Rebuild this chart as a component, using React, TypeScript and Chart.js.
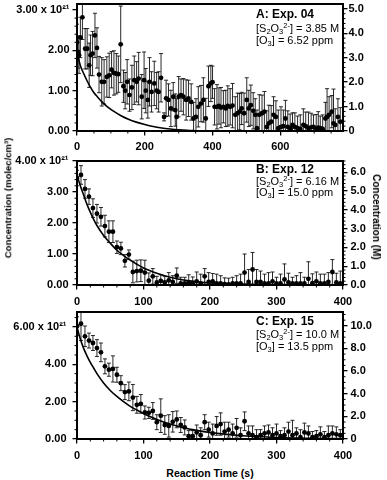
import React, { useEffect, useRef } from 'react';
import { Chart, registerables } from 'chart.js';

Chart.register(...registerables);

const FONT = "'Liberation Sans', Arial, Helvetica, sans-serif";
// 1e21 molec/cm3 expressed in mol/L (right-hand axes)
const M_PER_1E21 = 1.65;

// ---------- Panel A: Exp. 04 ----------
const A_TIME = [0, 3, 6, 10, 16, 24, 30, 36, 40, 46, 53, 59, 65, 73, 80, 88, 95, 102, 109, 116, 122, 129, 137, 142, 148, 155, 162, 169, 176, 182, 191, 198, 203, 209, 214, 220, 228, 235, 241, 248, 257, 263, 270, 277, 284, 290, 294, 300, 307, 314, 322, 329, 337, 344, 351, 358, 366, 373, 380, 388, 395, 400, 406, 413, 419, 425, 432, 439, 445, 452, 459, 467, 474, 480, 486, 493, 501, 507, 513, 520, 526, 531, 538, 546, 553, 560, 566, 573, 580, 587, 594, 602, 609, 615, 622, 629, 636, 643, 651, 659, 668, 675, 683, 691, 698, 706, 712, 718, 725, 733, 738, 744, 752, 757, 762, 770, 777];
const A_CONC = [2.20, 1.96, 1.88, 2.32, 2.82, 2.04, 2.04, 1.63, 1.88, 1.92, 2.37, 2.06, 1.40, 1.22, 1.22, 1.34, 1.38, 1.52, 1.44, 1.42, 1.41, 2.15, 1.11, 1.00, 1.22, 0.89, 1.08, 1.26, 1.22, 1.30, 0.85, 1.26, 1.00, 0.77, 1.22, 0.97, 1.18, 1.00, 0.97, 1.32, 0.35, 0.81, 0.77, 0.56, 0.85, 0.52, 0.35, 0.85, 0.89, 0.85, 0.77, 0.81, 0.72, 0.31, 0.35, 0.60, 0.68, 0.77, 0.31, 1.11, 1.18, 1.21, 0.60, 0.60, 0.62, 0.58, 0.60, 0.56, 0.62, 0.60, 0.63, 0.40, 0.44, 0.48, 0.56, 0.44, 0.77, 0.56, 0.64, 0.50, 0.40, 0.07, 0.40, 0.44, 0.48, 0.10, 0.19, 0.23, 0.40, 0.35, 0.07, 0.10, 0.12, 0.31, 0.10, 0.07, 0.15, 0.10, 0.07, 0.05, 0.15, 0.12, 0.07, 0.09, 0.10, 0.06, 0.08, 0.07, 0.05, 0.31, 0.35, 0.40, 0.48, 0.19, 0.15, 0.35, 0.23];
const A_ERR = [0.45, 0.40, 0.45, 0.50, 0.55, 0.50, 0.50, 0.55, 0.50, 0.55, 0.55, 0.50, 0.45, 0.60, 0.55, 0.50, 0.55, 0.45, 0.55, 0.50, 0.45, 0.95, 0.40, 0.45, 0.55, 0.40, 0.55, 0.60, 0.50, 0.65, 0.55, 0.70, 0.55, 0.45, 0.60, 0.50, 0.55, 0.45, 0.50, 0.60, 0.10, 0.45, 0.40, 0.45, 0.35, 0.40, 0.45, 0.50, 0.40, 0.45, 0.50, 0.45, 0.45, 0.40, 0.45, 0.50, 0.45, 0.55, 0.50, 0.50, 0.45, 0.40, 0.45, 0.55, 0.45, 0.50, 0.40, 0.45, 0.50, 0.45, 0.55, 0.45, 0.50, 0.45, 0.40, 0.50, 0.55, 0.45, 0.50, 0.45, 0.40, 0.45, 0.50, 0.45, 0.50, 0.40, 0.45, 0.40, 0.45, 0.40, 0.45, 0.50, 0.40, 0.45, 0.40, 0.35, 0.30, 0.35, 0.30, 0.35, 0.40, 0.35, 0.40, 0.35, 0.30, 0.35, 0.40, 0.30, 0.35, 0.40, 0.70, 0.45, 0.40, 0.85, 0.40, 0.45, 0.35];
const A_FIT_TIME = [0, 5, 10, 20, 30, 40, 50, 60, 75, 90, 110, 130, 150, 175, 200, 225, 250, 275, 300, 325, 350];
const A_FIT_CONC = [2.0, 1.78, 1.62, 1.42, 1.24, 1.08, 0.95, 0.85, 0.71, 0.6, 0.48, 0.38, 0.3, 0.22, 0.16, 0.11, 0.075, 0.05, 0.03, 0.015, 0.005];
const A_X_TICKS = [0, 200, 400, 600];
const A_LEFT_TICKS = [0, 1, 2, 3];
const A_LEFT_LABELS = ['0.00', '1.00', '2.00', '3.00 x 10²¹'];
const A_RIGHT_TICKS = [0, 1, 2, 3, 4, 5];
const A_RIGHT_LABELS = ['0', '1.0', '2.0', '3.0', '4.0', '5.0'];

// ---------- Panel B: Exp. 12 ----------
const B_TIME = [0, 6, 12, 18, 24, 30, 36, 42, 48, 54, 60, 66, 72, 78, 84, 90, 96, 102, 108, 114, 120, 126, 132, 138, 144, 150, 156, 162, 168, 174, 180, 186, 192, 198, 204, 210, 216, 222, 228, 234, 240, 246, 252, 258, 264, 270, 276, 282, 288, 294, 300, 306, 312, 318, 324, 330, 336, 342, 348, 354, 360, 366, 372, 378, 384, 390, 396];
const B_CONC = [3.45, 3.55, 3.10, 2.85, 2.48, 2.30, 2.20, 1.90, 1.72, 1.72, 1.22, 1.18, 0.78, 0.98, 0.42, 0.45, 0.46, 0.40, 0.14, 0.28, 0.08, 0.13, 0.08, 0.15, 0.10, 0.30, 0.05, 0.05, 0.08, 0.06, 0.12, 0.05, 0.28, 0.10, 0.12, 0.05, 0.05, 0.03, 0.02, 0.05, 0.05, 0.05, 0.40, 0.10, 0.50, 0.10, 0.10, 0.05, 0.05, 0.12, 0.05, 0.05, 0.18, 0.08, 0.05, 0.05, 0.05, 0.05, 0.20, 0.06, 0.12, 0.05, 0.05, 0.10, 0.42, 0.08, 0.05];
const B_ERR = [0.25, 0.30, 0.30, 0.25, 0.30, 0.30, 0.30, 0.35, 0.35, 0.35, 0.20, 0.20, 0.20, 0.15, 0.35, 0.35, 0.35, 0.40, 0.25, 0.25, 0.20, 0.20, 0.20, 0.25, 0.20, 0.25, 0.20, 0.20, 0.25, 0.20, 0.30, 0.30, 0.25, 0.30, 0.25, 0.30, 0.25, 0.20, 0.20, 0.20, 0.25, 0.30, 0.60, 0.40, 0.55, 0.40, 0.35, 0.30, 0.35, 0.30, 0.20, 0.30, 0.50, 0.30, 0.20, 0.25, 0.35, 0.20, 0.55, 0.30, 0.30, 0.30, 0.30, 0.30, 0.40, 0.30, 0.40];
const B_FIT_TIME = [0, 5, 10, 15, 20, 25, 30, 40, 50, 60, 70, 80, 90, 100, 110, 120, 140, 160, 180, 200, 250, 300, 350, 400];
const B_FIT_CONC = [3.55, 3.2, 2.9, 2.6, 2.35, 2.12, 1.92, 1.6, 1.35, 1.12, 0.95, 0.8, 0.67, 0.55, 0.46, 0.38, 0.25, 0.16, 0.11, 0.07, 0.03, 0.015, 0.008, 0.004];
const B_X_TICKS = [0, 100, 200, 300, 400];
const B_LEFT_TICKS = [0, 1, 2, 3, 4];
const B_LEFT_LABELS = ['0.00', '1.00', '2.00', '3.00', '4.00 x 10²¹'];
const B_RIGHT_TICKS = [0, 1, 2, 3, 4, 5, 6];
const B_RIGHT_LABELS = ['0.0', '1.0', '2.0', '3.0', '4.0', '5.0', '6.0'];

// ---------- Panel C: Exp. 15 ----------
const C_TIME = [0, 6, 12, 18, 24, 30, 36, 42, 48, 54, 60, 66, 72, 78, 84, 90, 96, 102, 108, 114, 120, 126, 132, 138, 144, 150, 156, 162, 168, 174, 180, 186, 192, 198, 204, 210, 216, 222, 228, 234, 240, 246, 252, 258, 264, 270, 276, 282, 288, 294, 300, 306, 312, 318, 324, 330, 336, 342, 348, 354, 360, 366, 372, 378, 384, 390, 396];
const C_CONC = [6.04, 6.17, 5.50, 5.27, 5.14, 4.87, 4.64, 3.89, 3.71, 3.75, 3.44, 2.99, 2.51, 2.55, 2.22, 1.83, 1.88, 1.42, 1.40, 1.50, 0.90, 1.25, 0.75, 0.70, 0.92, 1.05, 0.75, 0.62, 0.15, 0.15, 0.35, 0.20, 0.90, 0.50, 0.30, 0.70, 0.80, 0.40, 0.50, 0.30, 0.60, 0.20, 0.95, 0.30, 0.20, 0.10, 0.20, 0.30, 0.35, 0.20, 0.30, 0.15, 0.20, 0.40, 0.20, 0.30, 0.10, 0.35, 0.30, 0.10, 0.15, 0.25, 0.10, 0.20, 0.30, 0.25, 0.20];
const C_ERR = [0.50, 0.90, 0.55, 0.40, 0.40, 0.45, 0.50, 0.40, 0.35, 0.70, 0.40, 0.40, 0.40, 0.50, 0.70, 0.45, 0.50, 0.35, 0.30, 0.45, 0.40, 0.90, 0.50, 0.60, 0.55, 0.45, 0.40, 0.40, 0.30, 0.30, 0.40, 0.40, 0.40, 0.40, 0.50, 0.50, 0.60, 0.50, 0.40, 0.50, 0.50, 0.40, 0.50, 0.40, 0.50, 0.40, 0.30, 0.40, 0.40, 0.40, 0.50, 0.30, 0.40, 0.50, 0.80, 0.30, 0.40, 0.50, 0.40, 0.30, 0.30, 0.40, 0.30, 0.50, 0.40, 0.40, 0.30];
const C_FIT_TIME = [0, 5, 10, 15, 20, 25, 30, 40, 50, 60, 70, 80, 90, 100, 120, 140, 160, 180, 200, 250, 300, 350, 400];
const C_FIT_CONC = [6.0, 5.35, 4.85, 4.45, 4.1, 3.8, 3.5, 3.0, 2.6, 2.28, 2.0, 1.75, 1.55, 1.37, 1.05, 0.8, 0.6, 0.46, 0.35, 0.17, 0.08, 0.04, 0.02];
const C_X_TICKS = [0, 100, 200, 300, 400];
const C_LEFT_TICKS = [0, 2, 4, 6];
const C_LEFT_LABELS = ['0.00', '2.00', '4.00', '6.00 x 10²¹'];
const C_RIGHT_TICKS = [0, 2, 4, 6, 8, 10];
const C_RIGHT_LABELS = ['0', '2.0', '4.0', '6.0', '8.0', '10.0'];

// ---------- annotation texts ----------
const PANEL_TITLES = ['A: Exp. 04', 'B: Exp. 12', 'C: Exp. 15'];
const S2O3_CONC = ['3.85', '6.16', '10.0'];
const O3_CONC = ['6.52', '15.0', '13.5'];

const X_TITLE = 'Reaction Time (s)';
const Y_TITLE = 'Concentration (molec/cm³)';
const Y2_TITLE = 'Concentration (M)';

type Panel = {
  top: number; height: number; padTop: number; xAxisH: number;
  xMax: number; yMax: number;
  xTicks: number[]; yTicks: number[]; yLabels: string[]; y2Ticks: number[]; y2Labels: string[];
  xMinor: number; yMinor: number; y2Minor: number;
  yPad: number; y2Pad: number; xPad: number;
  time: number[]; conc: number[]; err: number[]; fitTime: number[]; fitConc: number[];
  idx: number; annY: number[];
};

const PANELS: Panel[] = [
  {
    top: 0, height: 152, padTop: 4, xAxisH: 21, xMax: 785, yMax: 3.15,
    xTicks: A_X_TICKS, yTicks: A_LEFT_TICKS, yLabels: A_LEFT_LABELS, y2Ticks: A_RIGHT_TICKS, y2Labels: A_RIGHT_LABELS,
    xMinor: 50, yMinor: 0.2, y2Minor: 0.2, yPad: 3, y2Pad: 1, xPad: 5,
    time: A_TIME, conc: A_CONC, err: A_ERR, fitTime: A_FIT_TIME, fitConc: A_FIT_CONC,
    idx: 0, annY: [11, 25, 37],
  },
  {
    top: 152, height: 154, padTop: 9, xAxisH: 21, xMax: 400, yMax: 4.0,
    xTicks: B_X_TICKS, yTicks: B_LEFT_TICKS, yLabels: B_LEFT_LABELS, y2Ticks: B_RIGHT_TICKS, y2Labels: B_RIGHT_LABELS,
    xMinor: 20, yMinor: 0.2, y2Minor: 0.2, yPad: 4, y2Pad: 3, xPad: 6,
    time: B_TIME, conc: B_CONC, err: B_ERR, fitTime: B_FIT_TIME, fitConc: B_FIT_CONC,
    idx: 1, annY: [9, 21, 32],
  },
  {
    top: 306, height: 160, padTop: 6, xAxisH: 27, xMax: 400, yMax: 6.8,
    xTicks: C_X_TICKS, yTicks: C_LEFT_TICKS, yLabels: C_LEFT_LABELS, y2Ticks: C_RIGHT_TICKS, y2Labels: C_RIGHT_LABELS,
    xMinor: 20, yMinor: 0.5, y2Minor: 0.5, yPad: 6, y2Pad: 3, xPad: 6,
    time: C_TIME, conc: C_CONC, err: C_ERR, fitTime: C_FIT_TIME, fitConc: C_FIT_CONC,
    idx: 2, annY: [10, 23, 35],
  },
];

type Seg = { t: string; sub?: boolean; sup?: boolean };

function drawRich(ctx: CanvasRenderingContext2D, x: number, y: number, segs: Seg[], size: number) {
  let cx = x;
  for (const s of segs) {
    const small = s.sub || s.sup;
    const fs = small ? size * 0.68 : size;
    ctx.font = `${fs}px ${FONT}`;
    const dy = s.sub ? size * 0.28 : s.sup ? -size * 0.32 : 0;
    ctx.fillText(s.t, cx, y + dy);
    cx += ctx.measureText(s.t).width;
  }
}

function decorPlugin(p: Panel) {
  return {
    id: 'decor' + p.idx,
    beforeDatasetsDraw(chart: any) {
      const { ctx, chartArea: a, scales } = chart;
      const x = scales.x, y = scales.y;
      ctx.save();
      ctx.beginPath();
      ctx.rect(a.left, a.top, a.right - a.left, a.bottom - a.top);
      ctx.clip();
      ctx.strokeStyle = '#111';
      ctx.lineWidth = 0.9;
      p.time.forEach((t, i) => {
        const px = x.getPixelForValue(t);
        const top = y.getPixelForValue(p.conc[i] + p.err[i]);
        const bot = y.getPixelForValue(p.conc[i] - p.err[i]);
        ctx.beginPath();
        ctx.moveTo(px, top); ctx.lineTo(px, bot);
        ctx.moveTo(px - 2, top); ctx.lineTo(px + 2, top);
        ctx.moveTo(px - 2, bot); ctx.lineTo(px + 2, bot);
        ctx.stroke();
      });
      ctx.restore();
    },
    afterDraw(chart: any) {
      const { ctx, chartArea: a, scales } = chart;
      ctx.save();
      ctx.strokeStyle = '#000';
      // minor ticks
      ctx.lineWidth = 1;
      const minor = (scale: any, step: number, max: number, majors: number[], side: string) => {
        for (let k = 1; k * step <= max + 1e-9; k++) {
          const v = k * step;
          if (majors.some((m) => Math.abs(m - v) < 1e-6)) continue;
          const pix = scale.getPixelForValue(v);
          ctx.beginPath();
          if (side === 'left') { ctx.moveTo(a.left, pix); ctx.lineTo(a.left - 2.5, pix); }
          else if (side === 'right') { ctx.moveTo(a.right, pix); ctx.lineTo(a.right + 2.5, pix); }
          else { ctx.moveTo(pix, a.bottom); ctx.lineTo(pix, a.bottom + 2.5); }
          ctx.stroke();
        }
      };
      minor(scales.y, p.yMinor, p.yMax, p.yTicks, 'left');
      minor(scales.y2, p.y2Minor, p.yMax * M_PER_1E21, p.y2Ticks, 'right');
      minor(scales.x, p.xMinor, p.xMax, p.xTicks, 'bottom');
      // frame
      ctx.lineWidth = 2;
      ctx.strokeRect(a.left, a.top, a.right - a.left, a.bottom - a.top);
      // annotation
      ctx.fillStyle = '#000';
      ctx.textBaseline = 'middle';
      ctx.textAlign = 'left';
      const ax = a.right - 87;
      ctx.font = `bold 12px ${FONT}`;
      ctx.fillText(PANEL_TITLES[p.idx], ax, a.top + p.annY[0]);
      drawRich(ctx, ax, a.top + p.annY[1], [
        { t: '[S' }, { t: '2', sub: true }, { t: 'O' }, { t: '3', sub: true }, { t: '2-', sup: true },
        { t: `] = ${S2O3_CONC[p.idx]} M` },
      ], 11);
      drawRich(ctx, ax, a.top + p.annY[2], [
        { t: '[O' }, { t: '3', sub: true }, { t: `] = ${O3_CONC[p.idx]} ppm` },
      ], 11);
      ctx.restore();
    },
  };
}

const tickFont = { family: FONT, size: 11, weight: 'bold' as const };

function makeConfig(p: Panel): any {
  const pts = p.time.map((t, i) => ({ x: t, y: p.conc[i] }));
  const fit = p.fitTime.map((t, i) => ({ x: t, y: p.fitConc[i] }));
  const grid = { display: true, drawOnChartArea: false, drawTicks: true, tickLength: 4.5, color: '#000', lineWidth: 1.3 };
  const border = { display: true, color: '#000', width: 2 };
  return {
    type: 'scatter',
    data: {
      datasets: [
        {
          type: 'line', data: fit, borderColor: '#000', borderWidth: 1.6, pointRadius: 0,
          fill: false, cubicInterpolationMode: 'monotone', order: 2, clip: 0,
        },
        {
          type: 'scatter', data: pts, pointRadius: 2.4, pointBackgroundColor: '#000',
          pointBorderWidth: 0, pointBorderColor: '#000', order: 1,
        },
      ],
    },
    options: {
      animation: false,
      responsive: false,
      events: [],
      layout: { padding: { top: p.padTop, left: 0, right: 0, bottom: 0 } },
      plugins: { legend: { display: false }, tooltip: { enabled: false }, title: { display: false } },
      scales: {
        x: {
          type: 'linear', position: 'bottom', min: 0, max: p.xMax,
          afterBuildTicks: (s: any) => { s.ticks = p.xTicks.map((v) => ({ value: v })); },
          afterFit: (s: any) => { s.height = p.xAxisH; s.paddingLeft = 0; s.paddingRight = 0; },
          ticks: { font: tickFont, color: '#000', padding: p.xPad, maxRotation: 0, autoSkip: false, callback: (v: number) => String(v) },
          grid, border,
        },
        y: {
          type: 'linear', position: 'left', min: 0, max: p.yMax,
          afterBuildTicks: (s: any) => { s.ticks = p.yTicks.map((v) => ({ value: v })); },
          afterFit: (s: any) => { s.width = 77; s.paddingTop = 0; s.paddingBottom = 0; },
          ticks: { font: tickFont, color: '#000', padding: p.yPad, autoSkip: false, callback: (_v: number, i: number) => p.yLabels[i] },
          grid, border,
        },
        y2: {
          type: 'linear', position: 'right', min: 0, max: p.yMax * M_PER_1E21,
          afterBuildTicks: (s: any) => { s.ticks = p.y2Ticks.map((v) => ({ value: v })); },
          afterFit: (s: any) => { s.width = 44; s.paddingTop = 0; s.paddingBottom = 0; },
          ticks: { font: tickFont, color: '#000', padding: p.y2Pad, autoSkip: false, callback: (_v: number, i: number) => p.y2Labels[i] },
          grid, border,
        },
      },
    },
    plugins: [decorPlugin(p)],
  };
}

function PanelChart({ p }: { p: Panel }) {
  const ref = useRef<HTMLCanvasElement | null>(null);
  useEffect(() => {
    if (!ref.current) return;
    const chart = new Chart(ref.current, makeConfig(p));
    return () => chart.destroy();
  }, [p]);
  return (
    <canvas
      ref={ref}
      width={387}
      height={p.height}
      style={{ position: 'absolute', left: 0, top: p.top, width: 387, height: p.height, display: 'block' }}
    />
  );
}

export default function App() {
  const titleStyle: React.CSSProperties = {
    position: 'absolute', whiteSpace: 'nowrap', fontFamily: FONT, fontWeight: 'bold', color: '#000', lineHeight: 1,
  };
  return (
    <div style={{ position: 'absolute', left: 0, top: 0, width: 387, height: 480, background: '#fff', overflow: 'hidden' }}>
      {PANELS.map((p) => (
        <PanelChart key={p.idx} p={p} />
      ))}
      <div style={{ ...titleStyle, fontSize: 9.5, left: 8, top: 198, transform: 'translate(-50%, -50%) rotate(-90deg)' }}>{Y_TITLE}</div>
      <div style={{ ...titleStyle, fontSize: 10, left: 376, top: 217, transform: 'translate(-50%, -50%) rotate(90deg)' }}>{Y2_TITLE}</div>
      <div style={{ ...titleStyle, fontSize: 10.5, left: 210, top: 473, transform: 'translate(-50%, -50%)' }}>{X_TITLE}</div>
    </div>
  );
}
